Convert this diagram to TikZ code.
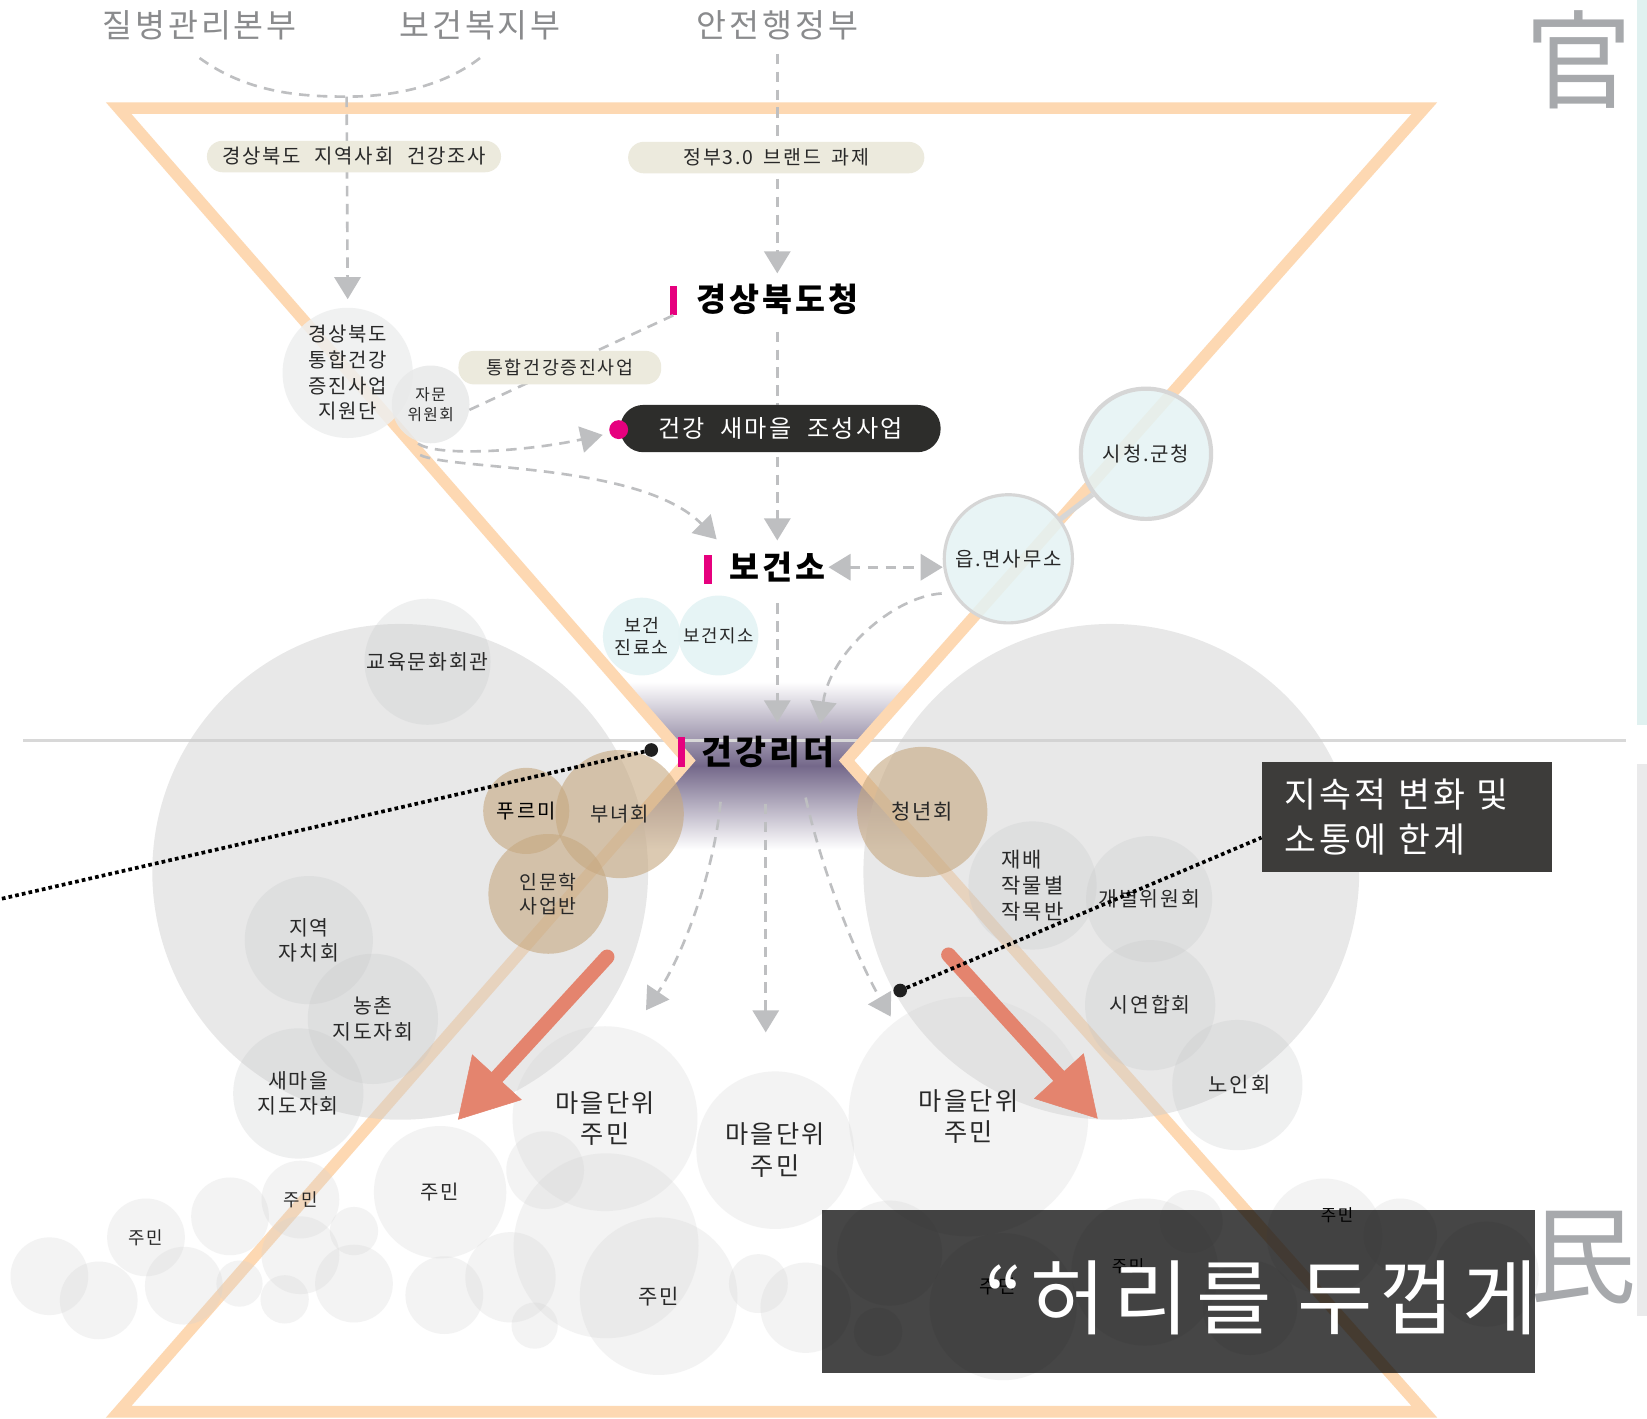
\documentclass[tikz,border=0pt]{standalone}
\usepackage{fontspec}
\setmainfont{Noto Sans CJK KR}[LetterSpace=9]
\usetikzlibrary{arrows.meta,calc}
\definecolor{orangeL}{RGB}{253,216,178}
\definecolor{dashc}{RGB}{190,191,193}
\definecolor{topgray}{RGB}{138,139,141}
\definecolor{hanja}{RGB}{167,169,172}
\definecolor{mag}{RGB}{230,0,126}
\definecolor{pillc}{RGB}{236,234,221}
\definecolor{darkpill}{RGB}{45,45,43}
\definecolor{tealc}{RGB}{228,243,244}
\definecolor{tealb}{RGB}{214,214,214}
\definecolor{tanc}{RGB}{198,168,128}
\definecolor{bigg}{RGB}{205,205,205}
\definecolor{midg}{RGB}{195,197,199}
\definecolor{lightg}{RGB}{212,212,212}
\definecolor{jiwonc}{RGB}{238,239,239}
\definecolor{jamunc}{RGB}{232,233,233}
\definecolor{salmon}{RGB}{228,132,110}
\definecolor{purp}{RGB}{116,104,138}
\definecolor{txt}{RGB}{40,40,40}
\definecolor{limbox}{RGB}{61,60,58}
\definecolor{tealbar}{RGB}{224,241,240}
\definecolor{graybar}{RGB}{234,234,235}
\definecolor{hlinec}{RGB}{216,216,216}
\tikzset{
  every node/.style={inner sep=0pt, text=txt},
  fs/.style n args={2}{font=\fontsize{#1}{#2}\selectfont},
  toptxt/.style={fs={31}{36}, text=topgray},
  bigb/.style={font=\fontsize{31}{36}\selectfont\bfseries, text=black},
  mbar/.style={fill=mag, minimum width=7pt, minimum height=28pt},
  pill/.style={fill=pillc, rounded corners=15pt, minimum height=30pt, fs={19}{22}},
  dsh/.style={draw=dashc, line width=2.5pt, dash pattern=on 10pt off 7pt},
  ahead/.style={-{Triangle[width=25pt,length=21pt]}},
  tcirc/.style={circle, fill=tealc, draw=tealb, line width=3pt, fill opacity=0.85, text opacity=1, draw opacity=1},
  tcircB/.style={circle, fill=tealc, fill opacity=0.9, text opacity=1, align=center},
  bigcirc/.style={circle, fill=bigg, fill opacity=0.45, minimum size=472pt},
  midcirc/.style={circle, fill=midg, fill opacity=0.25, text opacity=1, align=center, fs={19.5}{24}},
  tancirc/.style={circle, fill=tanc, fill opacity=0.6, text opacity=1, align=center, fs={19}{23}},
  gcirc/.style={circle, fill=lightg, fill opacity=0.28, text opacity=1, align=center},
  salarrow/.style={draw=salmon, line width=14pt, line cap=round, -{Triangle[width=64pt,length=55pt,line width=0.5pt]}},
  dotl/.style={draw=black, line width=3.5pt, dash pattern=on 3.5pt off 3pt},
  blackdot/.style={circle, fill=black!88, minimum size=13pt},
}
\begin{document}
\begin{tikzpicture}[x=1pt,y=-1pt]
\fill[white] (0,0) rectangle (1568,1350);
\useasboundingbox (0,0) rectangle (1568,1350);
% waist gradient
\shade[top color=white, bottom color=white, middle color=purp]
  (590,649) -- (872,649) -- (806,724) -- (881,809) -- (581,809) -- (655,724) -- cycle;
% horizontal divider
\draw[hlinec, line width=2pt] (22,705) -- (1548,705);
% hourglass frame
\draw[orangeL, line width=11pt, line join=miter]
  (113,103) -- (1356,103) -- (806,724) -- (1356,1344) -- (113,1344) -- (655,724) -- cycle;
% side bars
\fill[tealbar] (1558,0) rectangle (1568,690);
\fill[graybar] (1558,727) rectangle (1568,1253);
\node[fs={102}{110}, text=hanja] (kwan) at (1503,57) {官};
\node[fs={102}{110}, text=hanja] (min) at (1507,1197) {民};

% top ministries
\node[toptxt] (kdca) at (190,24) {질병관리본부};
\node[toptxt] (mohw) at (457,24) {보건복지부};
\node[toptxt] (mois) at (740,24) {안전행정부};
\coordinate (merge) at (330,92);
\node[bigb] (gbc) at (740,285) {경상북도청};
\node[mbar] (gbcbar) at (641,286) {};
\node[circle, fill=jiwonc, fill opacity=0.85, text opacity=1, minimum size=124pt, align=center, fs={19}{24.5}] (jiwon) at (331,355) {경상북도\\통합건강\\증진사업\\지원단};
\node[circle, fill=jamunc, fill opacity=0.85, text opacity=1, minimum size=74pt, align=center, fs={15}{19}] (jamun) at (410,385) {자문\\위원회};
\node[bigb] (bgs) at (740,540) {보건소};
\node[mbar] (bgsbar) at (674,542) {};

\draw[dsh] ($(kdca.south)+(0,17)$) .. controls (235,88) and (285,92) .. (merge)
  .. controls (380,92) and (425,80) .. ($(mohw.south)+(0,17)$);
\draw[dsh, ahead] (merge) -- ($(jiwon.north)+(0,-8)$);
\draw[dsh, ahead, shorten <=13pt] (mois.south) -- ($(gbc.north)+(0,-10)$);
\draw[dsh, ahead, shorten <=16pt] (gbc.south) -- ($(bgs.north)+(0,-11)$);
\draw[dsh] (gbcbar.south) -- ($(jamun.east)+(-2,6)$);

\node[pill, minimum width=280pt] (survey) at (337,149) {경상북도\hspace{13pt}지역사회\hspace{13pt}건강조사};
\node[pill, minimum width=282pt, fs={18.5}{22}] (gov30) at (739,150) {정부3.0\hspace{10pt}브랜드\hspace{10pt}과제};
\node[pill, minimum width=193pt, minimum height=32pt, fs={17.5}{20}] (tonghap) at (533,350) {통합건강증진사업};
\node[fill=darkpill, rounded corners=22pt, minimum width=305pt, minimum height=45pt, text=white, fs={23}{26}] (sm) at (743,408) {건강\hspace{15pt}새마을\hspace{15pt}조성사업};
\node[circle, fill=mag, minimum size=18pt] (smdot) at (589,409) {};

\draw[dsh, ahead] ($(jamun.south)+(-12,0)$) .. controls (415,435) and (500,430) .. ($(smdot.west)+(-6,5)$);
\draw[dsh, ahead] ($(jamun.south)+(-10,11)$) .. controls (430,448) and (610,440) .. ($(bgs.north west)+(-12,-12)$);

% eup / si
\node[tcirc, minimum size=122pt, fs={19}{22}] (eup) at (960,532) {읍.면사무소};
\node[tcirc, minimum size=124pt, line width=4pt, fs={19}{22}] (sich) at (1091,432) {시청.군청};
\draw[tealb, line width=5pt] (sich) -- (eup);
\draw[dsh, {Triangle[width=25pt,length=21pt]}-{Triangle[width=25pt,length=21pt]}, shorten <=3pt] (bgs.east) -- (bgs.east -| eup.west);

\node[tcircB, minimum size=74pt, fs={17.5}{21}] (bjin) at (611,606) {보건\\진료소};
\node[tcircB, minimum size=76pt, fs={17}{20}] (bjis) at (684,605) {보건지소};

\node[font=\fontsize{32}{36}\selectfont\bfseries, text=black] (leader) at (731,716) {건강리더};
\node[mbar] (leaderbar) at (649,716) {};
\draw[dsh, ahead, shorten <=20pt] (bgs.south) -- ($(leader.north)+(9,-13)$);
\draw[dsh, ahead] ($(eup.west)+(-1,33)$) .. controls (850,568) and (790,622) .. ($(leader.north)+(50,-12)$);

% big circles
\node[bigcirc] (bigL) at (381,830) {};
\node[bigcirc] (bigR) at (1058,830) {};
\node[midcirc, minimum size=120pt] (edu) at (407,630) {교육문화회관};
\node[midcirc, minimum size=122pt] (jiyeok) at (294,895) {지역\\자치회};
\node[midcirc, minimum size=124pt] (nong) at (355,970) {농촌\\지도자회};
\node[midcirc, minimum size=124pt] (saem) at (284,1041) {새마을\\지도자회};
\node[midcirc, minimum size=122pt, align=left, fs={20}{24.5}] (jaebae) at (983,843) {재배\\작물별\\작목반};
\node[midcirc, minimum size=120pt] (gaeb) at (1094,856) {개별위원회};
\node[midcirc, minimum size=124pt] (siyeon) at (1095,957) {시연합회};
\node[midcirc, minimum size=124pt, fs={20}{24}] (noin) at (1178,1033) {\hspace*{4pt}노인회};
\node[tancirc, minimum size=82pt, text=black] (purumi) at (501,772) {푸르미};
\node[tancirc, minimum size=122pt] (bunyeo) at (590,775) {부녀회};
\node[tancirc, minimum size=114pt, fs={18.5}{23}] (inmun) at (522,851) {인문학\\사업반};
\node[tancirc, minimum size=124pt, fs={20}{24}] (cheong) at (878,773) {청년회};

% bottom cloud of residents
\foreach \cx/\cy/\r in {47/1215/37, 94/1238/37, 175/1224/37, 219/1158/37, 228/1222/22, 286/1195/37,
  271/1237/23, 337/1222/37, 337/1172/23, 423/1233/37, 486/1216/43, 509/1262/22, 519/1114/37,
  577/1186/88, 722/1222/28, 767/1245/43, 847/1193/50, 955/1244/70, 1090/1211/70, 1134/1163/30,
  836/1268/23, 1261/1177/55, 1333/1176/35, 1415/1213/50, 1190/1245/45}
  \node[gcirc, minimum size=2*\r pt] (c\cx) at (\cx,\cy) {};
\node[gcirc, minimum size=74pt, fs={17}{20}] (jm1) at (139,1178) {주민};
\node[gcirc, minimum size=74pt, fs={17}{20}] (jm2) at (286,1142) {주민};
\node[gcirc, minimum size=126pt, fs={19}{22}] (jm3) at (419,1135) {주민};
\node[gcirc, minimum size=150pt, fs={20}{23}] (jm4) at (627,1234) {주민};
\node[gcirc, minimum size=176pt, fs={24}{30}] (vil1) at (576,1065) {마을단위\\주민};
\node[gcirc, minimum size=150pt, fs={24}{30}] (vil2) at (738,1095) {마을단위\\주민};
\node[gcirc, minimum size=228pt, fs={24}{30}] (vil3) at (922,1063) {마을단위\\주민};
\node[fs={16}{18}, text=black] (jm5) at (1273,1157) {주민};
\node[fs={16}{18}, text=black] (jm6) at (1074,1205) {주민};
\node[fs={18}{20}, text=black] (jm7) at (950,1225) {주민};

% leader arrows down
\draw[dsh, ahead] ($(leader.south)+(-45,32)$) .. controls (680,830) and (650,910) .. ($(vil1.north)+(39,-15)$);
\draw[dsh, ahead] ($(leader.south)+(-2,34)$) -- ($(vil2.north)+(-9,-37)$);
\draw[dsh, ahead] ($(leader.south)+(36,28)$) .. controls (785,840) and (820,920) .. ($(vil3.north)+(-74,19)$);

% salmon arrows
\coordinate (saLs) at (578,911);
\coordinate (saLe) at (436,1066);
\coordinate (saRs) at (903,909);
\coordinate (saRe) at (1045,1065);
\draw[salarrow] (saLs) -- (saLe);
\draw[salarrow] (saRs) -- (saRe);

% dotted pointers
\node[blackdot] (ldot) at (620,714) {};
\coordinate (lend) at (0,856);
\draw[dotl] (ldot) -- (lend);
\node[fill=limbox, text=white, anchor=north west, minimum width=276pt, minimum height=105pt,
  text width=232pt, align=left, inner xsep=22pt, fs={33}{43}] (limit) at (1201,725) {지속적 변화 및\\소통에 한계};
\node[blackdot] (rdot) at (857,943) {};
\draw[dotl] (rdot) -- ($(limit.south west)+(0,-33)$);

% title box
\node[fill=black, fill opacity=0.725, anchor=north west, minimum width=679pt, minimum height=155pt] (tbox) at (782,1152) {};
\node[anchor=base west, text=white, fs={78}{80}] (title) at (937,1265) {“허리를 두껍게};
\end{tikzpicture}
\end{document}
